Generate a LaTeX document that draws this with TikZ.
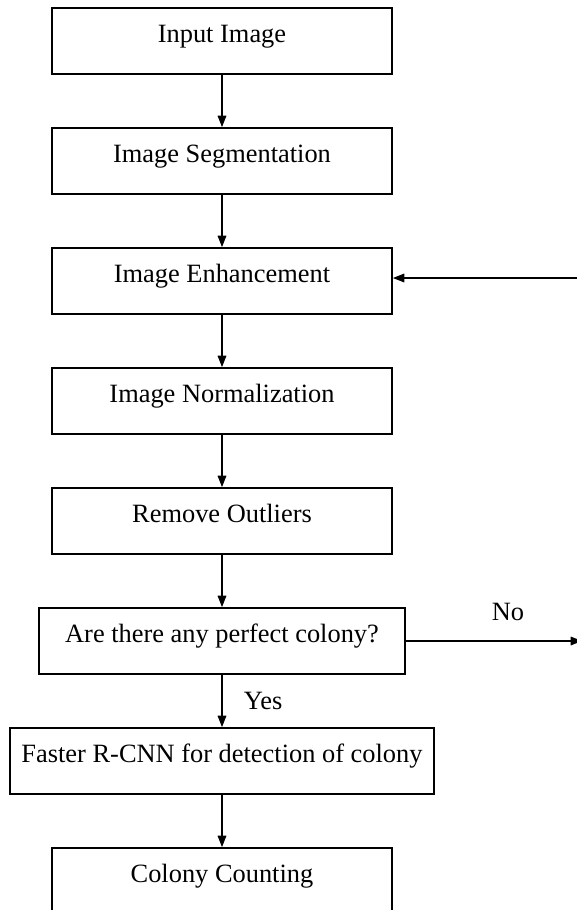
\documentclass[tikz,border=0pt]{standalone}
\usepackage{fontspec}
\setmainfont{Liberation Serif}
\usetikzlibrary{positioning, arrows.meta}

\begin{document}
\begin{tikzpicture}[x=0.75pt, y=-0.75pt, node distance=39.1pt, b/.style={draw, line width=1.4pt, minimum width=255pt, inner sep=0pt, text height=26pt, text depth=23.5pt, font=\fontsize{19.8pt}{24pt}\selectfont}, l/.style={inner sep=0pt, font=\fontsize{19.8pt}{24pt}\selectfont}, a/.style={-{Triangle[length=8.5pt, width=6.5pt]}, line width=.8pt}]
		\useasboundingbox[fill=white] (0,0) rectangle (577,910);

		\node[b] (In) at (222,41) {Input Image};
		\node[b, below=of In] (Seg) {Image Segmentation};
		\node[b, below=of Seg] (Enh) {Image Enhancement};
		\node[b, below=of Enh] (Norm) {Image Normalization};
		\node[b, below=of Norm] (Out) {Remove Outliers};
		\node[b, minimum width=274.5pt, below=of Out] (Dec) {Are there any perfect colony?};
		\node[b, minimum width=318pt, below=of Dec] (RCNN) {Faster R-CNN for detection of colony};
		\node[b, below=of RCNN] (Count) {Colony Counting};

		% loose ends on the right
		\coordinate (back) at (582,278);
		\coordinate (no) at (582,640);

		\draw[a] (In) -- (Seg);
		\draw[a] (Seg) -- (Enh);
		\draw[a] (Enh) -- (Norm);
		\draw[a] (Norm) -- (Out);
		\draw[a] (Out) -- (Dec);
		\draw[a] (Dec) -- node[l, right=16pt] {Yes} (RCNN);
		\draw[a] (RCNN) -- (Count);
		\draw[a] (Dec.east) -- node[l, pos=.58, above=14.5pt] {No} (Dec.east -| no);
		\draw[a] (back) -- (back -| Enh.east);
	\end{tikzpicture}
\end{document}
